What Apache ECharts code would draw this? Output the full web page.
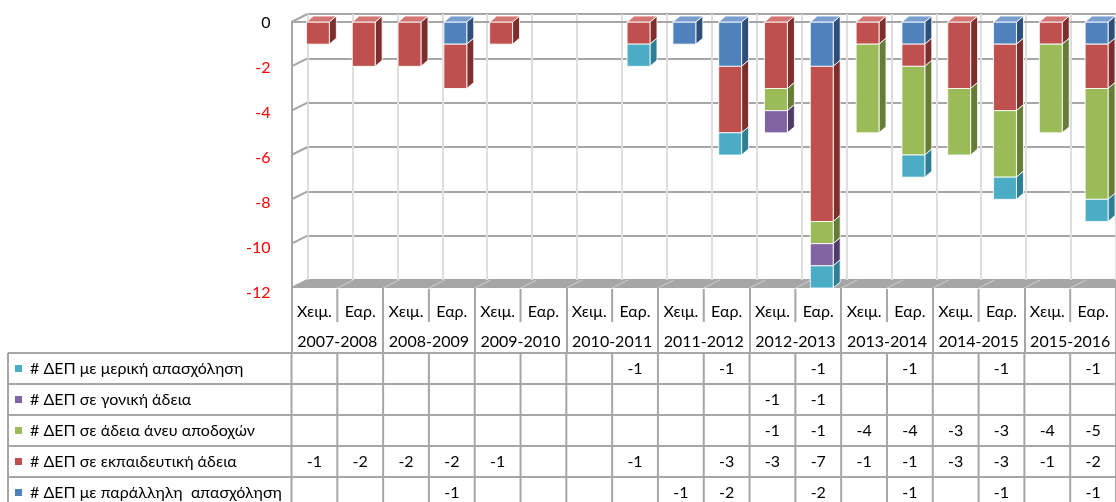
<!DOCTYPE html>
<html>
<head>
<meta charset="utf-8">
<title>ΔΕΠ</title>
<script src="https://cdn.jsdelivr.net/npm/echarts@6/dist/echarts.min.js"></script>
<style>
    html, body { margin: 0; padding: 0; background: #fff; }
    #chart { width: 1116px; height: 502px; }
</style>
</head>
<body>
<div id="chart"></div>
<script>
    // δεδομένα
    var years = ['2007-2008', '2008-2009', '2009-2010', '2010-2011', '2011-2012',
                 '2012-2013', '2013-2014', '2014-2015', '2015-2016'];
    var semesters = ['Χειμ.', 'Εαρ.'];

    var partTime    = [null, null, null, null, null, null, null, -1, null, -1, null, -1, null, -1, null, -1, null, -1];
    var parental    = [null, null, null, null, null, null, null, null, null, null, -1, -1, null, null, null, null, null, null];
    var unpaid      = [null, null, null, null, null, null, null, null, null, null, -1, -1, -4, -4, -3, -3, -4, -5];
    var educational = [-1, -2, -2, -2, -1, null, null, -1, null, -3, -3, -7, -1, -1, -3, -3, -1, -2];
    var parallel    = [null, null, null, -1, null, null, null, null, -1, -2, null, -2, null, -1, null, -1, null, -1];

    var yMin = -12, yMax = 0, yStep = 2;

    // σειρές με τη σειρά του πίνακα (πάνω προς κάτω)
    var rows = [
        { name: '# ΔΕΠ με μερική απασχόληση', data: partTime, front: '#4bacc6', side: '#2f7f94', top: '#7cc3d6' },
        { name: '# ΔΕΠ σε γονική άδεια', data: parental, front: '#8064a2', side: '#4f3c68', top: '#9c86b8' },
        { name: '# ΔΕΠ σε άδεια άνευ αποδοχών', data: unpaid, front: '#9bbb59', side: '#657d37', top: '#b4cd80' },
        { name: '# ΔΕΠ σε εκπαιδευτική άδεια', data: educational, front: '#c0504d', side: '#7e2f2d', top: '#d27573' },
        { name: '# ΔΕΠ με παράλληλη  απασχόληση', data: parallel, front: '#4f81bd', side: '#2d4f79', top: '#7a9fcf' }
    ];

    var categories = [];
    years.forEach(function (y) {
        semesters.forEach(function (s) { categories.push(s); });
    });

    // layout
    var W = 1116, L = 291.5, T = 22, H = 266;
    var DX = 16, DY = 8;      // βάθος τοίχων
    var BDX = 7, BDY = 6;     // βάθος στηλών
    var catW = (W - L) / categories.length;
    var FONT = 'Lato, "Open Sans", sans-serif';
    var GRID_C = '#a6a6a6';

    // στοίβαξη: από το 0 προς τα κάτω, παράλληλη πρώτη
    var stackOrder = rows.slice().reverse();
    var base = categories.map(function () { return 0; });
    var stacked = stackOrder.map(function (r) {
        var out = [];
        r.data.forEach(function (v, i) {
            if (v) {
                out.push([i, base[i], base[i] + v]);
                base[i] += v;
            }
        });
        return out;
    });

    function boxRenderer(r) {
        return function (params, api) {
            var i = api.value(0);
            var s = api.value(1);
            var p0 = api.coord([i, s]);
            var p1 = api.coord([i, api.value(2)]);
            var bw = api.size([1, 0])[0] * 0.5;
            var x0 = p0[0] - bw / 2 + 3.5, x1 = x0 + bw;
            var yT = p0[1], yB = p1[1];
            var edge = { stroke: 'rgba(255,255,255,0.85)', lineWidth: 1 };
            var kids = [
                { type: 'polygon', shape: { points: [[x1, yT], [x1 + BDX, yT - BDY], [x1 + BDX, yB - BDY], [x1, yB]] },
                  style: Object.assign({ fill: r.side }, edge) },
                { type: 'rect', shape: { x: x0, y: yT, width: bw, height: yB - yT },
                  style: Object.assign({ fill: r.front }, edge) }
            ];
            if (s === 0) {
                kids.push({ type: 'polygon', shape: { points: [[x0, yT], [x0 + BDX, yT - BDY], [x1 + BDX, yT - BDY], [x1, yT]] },
                            style: Object.assign({ fill: r.top }, edge) });
            }
            return { type: 'group', children: kids };
        };
    }

    var series = stackOrder.map(function (r, k) {
        return {
            name: r.name,
            type: 'custom',
            xAxisIndex: 0,
            yAxisIndex: 0,
            z: 5,
            data: stacked[k],
            renderItem: boxRenderer(r)
        };
    });

    var chart = echarts.init(document.getElementById('chart'));

    function yPix(v) { return T + (yMax - v) / (yMax - yMin) * H; }

    // διακοσμητικά: δάπεδο, πλευρικός τοίχος, πίνακας
    var graphics = [];
    var yFloorF = yPix(yMin), yFloorB = yFloorF - DY;
    graphics.push({ type: 'polygon', z: 3, shape: { points: [[L, yFloorF], [L + DX, yFloorB], [W + 20, yFloorB], [W, yFloorF]] },
                    style: { fill: '#a6a6a6' } });
    for (var c = 0; c <= categories.length; c++) {
        var fx = L + c * catW;
        graphics.push({ type: 'line', z: 3, shape: { x1: fx, y1: yFloorF, x2: fx + DX, y2: yFloorB },
                        style: { stroke: '#cfcfcf', lineWidth: 1 } });
        // διαχωριστικά εξαμήνων
        if (c % 2 === 1) {
            graphics.push({ type: 'line', z: 3, shape: { x1: fx, y1: yFloorF + 1, x2: fx, y2: 322 },
                            style: { stroke: GRID_C, lineWidth: 2 } });
        }
    }
    for (var v = yMax; v >= yMin; v -= yStep) {
        graphics.push({ type: 'line', z: 3, shape: { x1: L, y1: yPix(v), x2: L + DX, y2: yPix(v) - DY },
                        style: { stroke: GRID_C, lineWidth: 2 } });
    }
    graphics.push({ type: 'line', z: 3, shape: { x1: L, y1: T, x2: W, y2: T }, style: { stroke: GRID_C, lineWidth: 2 } });

    var tTop = 353, rowH = 31;
    for (var h = 0; h <= rows.length; h++) {
        graphics.push({ type: 'line', z: 3, shape: { x1: 8, y1: tTop + h * rowH, x2: W, y2: tTop + h * rowH },
                        style: { stroke: GRID_C, lineWidth: 2 } });
    }
    graphics.push({ type: 'line', z: 3, shape: { x1: 8, y1: tTop, x2: 8, y2: 502 }, style: { stroke: GRID_C, lineWidth: 2 } });
    for (var c2 = 0; c2 <= categories.length; c2++) {
        var vx = L + c2 * catW;
        graphics.push({ type: 'line', z: 3, shape: { x1: vx, y1: tTop, x2: vx, y2: 502 }, style: { stroke: GRID_C, lineWidth: 2 } });
    }
    rows.forEach(function (r, ri) {
        var cy = tTop + ri * rowH + rowH / 2;
        graphics.push({ type: 'rect', z: 4, shape: { x: 15, y: cy - 3.5, width: 7, height: 7 }, style: { fill: r.front } });
        graphics.push({ type: 'text', z: 4, style: { text: r.name, x: 30, y: cy, fill: '#000', font: '16px ' + FONT,
                        align: 'left', verticalAlign: 'middle' } });
        r.data.forEach(function (val, i) {
            if (val === null) return;
            graphics.push({ type: 'text', z: 4, style: { text: String(val), x: L + (i + 0.5) * catW, y: cy, fill: '#000',
                            font: '16px ' + FONT, align: 'center', verticalAlign: 'middle' } });
        });
    });

    chart.setOption({
        animation: false,
        grid: [
            { left: L, top: T, width: W - L, height: H },
            { left: L + DX, top: T - DY, width: W - L, height: H },
            { left: L, top: 23, width: W - L, height: 270 }
        ],
        xAxis: [
            { type: 'category', gridIndex: 0, data: categories, position: 'bottom',
              axisLine: { show: false, onZero: false },
              axisTick: { show: false },
              axisLabel: { interval: 0, margin: 16, color: '#000', fontSize: 16, fontFamily: FONT },
              splitLine: { show: false } },
            { type: 'category', gridIndex: 0, data: years, position: 'bottom',
              axisLine: { show: false, onZero: false },
              axisTick: { show: true, interval: 0, length: 65, lineStyle: { color: GRID_C, width: 2 } },
              axisLabel: { interval: 0, margin: 46, color: '#000', fontSize: 16, fontFamily: FONT },
              splitLine: { show: false } },
            { type: 'category', gridIndex: 1, data: categories,
              axisLine: { show: false }, axisTick: { show: false }, axisLabel: { show: false },
              splitLine: { show: true, interval: 0, lineStyle: { color: '#dedede', width: 2 } } },
            { type: 'category', gridIndex: 2, data: categories, show: false }
        ],
        yAxis: [
            { type: 'value', gridIndex: 0, min: yMin, max: yMax, interval: yStep,
              axisLine: { show: true, lineStyle: { color: GRID_C, width: 2 } },
              axisTick: { show: false }, axisLabel: { show: false }, splitLine: { show: false } },
            { type: 'value', gridIndex: 1, min: yMin, max: yMax, interval: yStep,
              axisLine: { show: false }, axisTick: { show: false }, axisLabel: { show: false },
              splitLine: { show: true, lineStyle: { color: GRID_C, width: 2 } } },
            { type: 'value', gridIndex: 2, min: yMin, max: yMax, interval: yStep,
              axisLine: { show: false }, axisTick: { show: false }, splitLine: { show: false },
              axisLabel: { margin: 21, fontSize: 16, fontFamily: FONT,
                           color: function (val) { return Number(val) < 0 ? '#ff0000' : '#000'; } } }
        ],
        graphic: graphics,
        series: series
    });
</script>
</body>
</html>
